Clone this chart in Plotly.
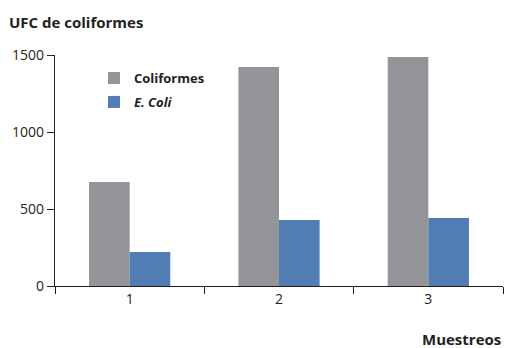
import plotly.graph_objects as go

# Sampling rounds and colony counts (CFU)
muestreos = ["1", "2", "3"]
coliformes = [675, 1422, 1487]
e_coli = [221, 429, 442]

y_ticks = [0, 500, 1000, 1500]

TEXT = "#231f20"
FONT = "Open Sans"

fig = go.Figure()
fig.add_trace(go.Bar(
    x=muestreos, y=coliformes, name="<b>Coliformes</b>",
    marker=dict(color="#939598", line=dict(width=0)),
    legendgroup="a",
))
fig.add_trace(go.Bar(
    x=muestreos, y=e_coli, name="<b><i>E. Coli</i></b>",
    marker=dict(color="#4f7db4", line=dict(width=0)),
    legendgroup="b",
))

fig.update_layout(
    width=506, height=348,
    margin=dict(l=55, r=3, t=55, b=62),
    paper_bgcolor="white", plot_bgcolor="white",
    font=dict(family=FONT, size=14, color=TEXT),
    barmode="group", bargap=0.456, bargroupgap=0,
    showlegend=True,
    legend=dict(
        x=0.087, y=0.965, xanchor="left", yanchor="top",
        bgcolor="rgba(0,0,0,0)", font=dict(size=13, color=TEXT),
        tracegroupgap=4, traceorder="grouped",
    ),
    xaxis=dict(
        type="category", range=[-0.5, 2.5],
        showline=True, linecolor=TEXT, linewidth=1.3,
        ticks="outside", tickson="boundaries", ticklen=7,
        tickcolor=TEXT, tickwidth=1.3,
        showgrid=False, zeroline=False,
        tickfont=dict(size=14, color=TEXT),
    ),
    yaxis=dict(
        range=[0, 1500], tickvals=y_ticks,
        showline=True, linecolor=TEXT, linewidth=1.3,
        ticks="outside", ticklen=7, tickcolor=TEXT, tickwidth=1.3,
        showgrid=False, zeroline=False,
        tickfont=dict(size=14, color=TEXT),
    ),
    annotations=[
        dict(text="<b>UFC de coliformes</b>", xref="paper", yref="paper",
             x=-48 / 448, y=1 + 33 / 231, xanchor="left", yanchor="middle",
             showarrow=False, font=dict(size=15, color=TEXT)),
        dict(text="<b>Muestreos</b>", xref="paper", yref="paper",
             x=1, y=-53 / 231, xanchor="right", yanchor="middle",
             showarrow=False, font=dict(size=15, color=TEXT)),
    ],
)

fig.write_html("out.html")
